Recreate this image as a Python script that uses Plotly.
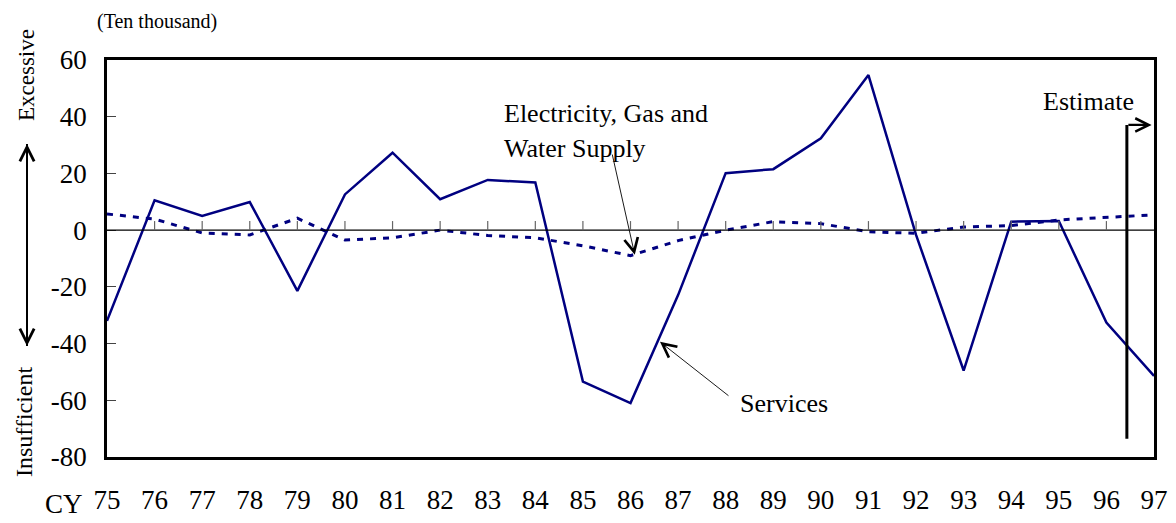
import plotly.graph_objects as go

years = list(range(75, 98))
year_labels = [str(y) for y in years]
services = [-32, 10.5, 5.0, 9.9, -21.4, 12.6, 27.3, 10.9, 17.7, 16.8, -53.4, -61.0,
            -22.9, 20.1, 21.5, 32.4, 54.7, -1.7, -49.5, 3.0, 3.2, -32.6, -51.4]
electricity = [5.7, 3.9, -1.0, -1.7, 4.2, -3.5, -2.7, 0.0, -1.9, -2.7, -5.5, -9.0,
               -3.7, 0.0, 3.0, 2.3, -0.6, -1.1, 1.1, 1.6, 3.6, 4.6, 5.4]
y_ticks = [60, 40, 20, 0, -20, -40, -60, -80]

FONT = "Liberation Serif, Times New Roman, serif"
NAVY = "#000080"
W, H = 1176, 523
L, R, T, B = 107, 22, 60, 66
pw, ph = W - L - R, H - T - B


def px(xp):
    return (xp - L) / pw


def py(yp):
    return (H - B - yp) / ph


fig = go.Figure()
fig.add_trace(go.Scatter(x=years, y=electricity, mode="lines",
                         line=dict(color=NAVY, width=3, dash="6px,7px"),
                         showlegend=False, hoverinfo="skip"))
fig.add_trace(go.Scatter(x=years, y=services, mode="lines",
                         line=dict(color=NAVY, width=2.5),
                         showlegend=False, hoverinfo="skip"))

shapes = []
shapes.append(dict(type="line", xref="x", yref="y", x0=years[0], x1=years[-1], y0=0, y1=0,
                   line=dict(color="black", width=1.2)))
for yv in years[1:-1]:
    shapes.append(dict(type="line", xref="x", yref="y", x0=yv, x1=yv, y0=0, y1=3.2,
                       line=dict(color="#666666", width=1.2)))
shapes.append(dict(type="line", xref="x", yref="y", x0=96.43, x1=96.43, y0=-73.6, y1=37.1,
                   line=dict(color="black", width=3)))
shapes.append(dict(type="line", xref="paper", yref="paper", x0=px(27), x1=px(27),
                   y0=py(346), y1=py(144), line=dict(color="black", width=2)))

ann = []
base = dict(showarrow=False, font=dict(family=FONT, size=26, color="black"))
ann.append(dict(base, text="Electricity, Gas and", x=83.3, y=41.3, xref="x", yref="y",
                xanchor="left", yanchor="middle"))
ann.append(dict(base, text="Water Supply", x=83.3, y=28.8, xref="x", yref="y",
                xanchor="left", yanchor="middle"))
ann.append(dict(base, text="Services", x=88.25, y=-61.0, xref="x", yref="y",
                xanchor="left", yanchor="middle"))
ann.append(dict(base, text="Estimate", x=95.63, y=45.2, xref="x", yref="y",
                xanchor="center", yanchor="middle"))
ann.append(dict(showarrow=False, text="CY", x=px(64), y=py(504), xref="paper", yref="paper",
                xanchor="center", yanchor="middle", font=dict(family=FONT, size=27, color="black")))
ann.append(dict(x=86.09, y=-8.7, ax=85.61, ay=27.2, xref="x", yref="y", axref="x", ayref="y",
                showarrow=True, arrowhead=5, arrowsize=3, arrowwidth=0.9, arrowcolor="black", text=""))
ann.append(dict(x=86.62, y=-39.4, ax=88.09, ay=-58.8, xref="x", yref="y", axref="x", ayref="y",
                showarrow=True, arrowhead=5, arrowsize=3, arrowwidth=0.9, arrowcolor="black", text=""))
ann.append(dict(x=96.95, y=37.1, ax=96.43, ay=37.1, xref="x", yref="y", axref="x", ayref="y",
                showarrow=True, arrowhead=5, arrowsize=1.2, arrowwidth=2.2, arrowcolor="black", text=""))
ann.append(dict(x=px(27), y=py(144), ax=0, ay=60, xref="paper", yref="paper", axref="pixel", ayref="pixel",
                showarrow=True, arrowhead=5, arrowsize=1.4, arrowwidth=2, arrowcolor="black", text=""))
ann.append(dict(x=px(27), y=py(346), ax=0, ay=-60, xref="paper", yref="paper", axref="pixel", ayref="pixel",
                showarrow=True, arrowhead=5, arrowsize=1.4, arrowwidth=2, arrowcolor="black", text=""))
ann.append(dict(showarrow=False, text="(Ten thousand)", x=px(95), y=py(22), xref="paper", yref="paper",
                xanchor="left", yanchor="middle", font=dict(family=FONT, size=20, color="black")))
ann.append(dict(showarrow=False, text="Excessive", x=px(27), y=py(75), xref="paper", yref="paper",
                xanchor="center", yanchor="middle", textangle=-90,
                font=dict(family=FONT, size=23, color="black")))
ann.append(dict(showarrow=False, text="Insufficient", x=px(24), y=py(422), xref="paper", yref="paper",
                xanchor="center", yanchor="middle", textangle=-90,
                font=dict(family=FONT, size=24, color="black")))

fig.update_layout(annotations=ann, shapes=shapes)

fig.update_layout(
    width=W, height=H,
    margin=dict(l=L, r=R, t=T, b=B, autoexpand=False),
    paper_bgcolor="white", plot_bgcolor="white",
    font=dict(family=FONT, color="black"),
    xaxis=dict(range=[years[0], years[-1]], tickvals=years, ticktext=year_labels,
               showgrid=False, zeroline=False, showline=True, linecolor="black", linewidth=2.5,
               mirror=True, ticks="", tickfont=dict(family=FONT, size=27),
               ticklabelstandoff=17, automargin=False),
    yaxis=dict(range=[-80, 60], tickvals=y_ticks, ticktext=[str(v) for v in y_ticks],
               showgrid=False, zeroline=False, showline=True, linecolor="black", linewidth=2.5,
               mirror=True, ticks="inside", ticklen=9, tickcolor="#444444", tickwidth=1.2,
               tickfont=dict(family=FONT, size=27), ticklabelstandoff=12, automargin=False),
)

fig.write_html("out.html", config={"displayModeBar": False},
               post_script="document.body.style.margin='0';document.body.style.overflow='hidden';")
